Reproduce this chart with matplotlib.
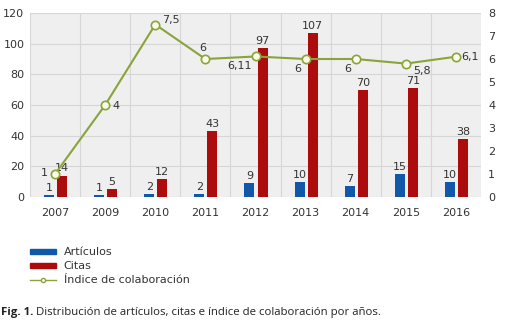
import numpy as np
import matplotlib
matplotlib.use("Agg")
import matplotlib.pyplot as plt
from matplotlib.lines import Line2D
from matplotlib.patches import Patch

years = ["2007", "2009", "2010", "2011", "2012", "2013", "2014", "2015", "2016"]
articulos = [1, 1, 2, 2, 9, 10, 7, 15, 10]
citas = [14, 5, 12, 43, 97, 107, 70, 71, 38]
indice = [1, 4, 7.5, 6, 6.11, 6, 6, 5.8, 6.1]
indice_txt = ["1", "4", "7,5", "6", "6,11", "6", "6", "5,8", "6,1"]
# where the index labels sit relative to their point (points)
indice_off = [(-5, 1), (5, -1), (5, 3), (-2, 8), (-3, -7), (-3, -7), (-3, -7), (5, -5), (4, 0)]

BLUE = "#1258a8"
RED = "#ad0c0c"
GREEN = "#88a43a"
BG = "#efefef"
GRID = "#d6d6d6"
TXT = "#333333"
FS = 8

plt.rcParams["font.family"] = ["DejaVu Sans"]

fig = plt.figure(figsize=(5.08, 3.28), dpi=100)
ax = fig.add_axes([30 / 508, 1 - 197 / 328, 451 / 508, 184 / 328])
ax.set_facecolor(BG)

x = np.arange(len(years))
w = 0.2
ax.bar(x - 0.12, articulos, width=w, color=BLUE, zorder=3)
ax.bar(x + 0.14, citas, width=w, color=RED, zorder=3)

for xi, v in zip(x, articulos):
    ax.annotate(str(v), (xi - 0.12, v), xytext=(0, 1.5), textcoords="offset points",
                ha="center", va="bottom", fontsize=FS, color=TXT, zorder=5)
for xi, v in zip(x, citas):
    ax.annotate(str(v), (xi + 0.14, v), xytext=(0, 1.5), textcoords="offset points",
                ha="center", va="bottom", fontsize=FS, color=TXT, zorder=5)

ax.set_xlim(-0.5, len(years) - 0.5)
ax.set_ylim(0, 120)
ax.set_yticks(range(0, 121, 20))
ax.set_xticks(x)
ax.set_xticklabels(years)
ax.set_xticks(np.arange(-0.5, len(years), 1), minor=True)
ax.grid(True, axis="y", color=GRID, linewidth=0.8, zorder=0)
ax.grid(True, axis="x", which="minor", color=GRID, linewidth=0.8, zorder=0)
ax.tick_params(axis="both", which="both", length=0, labelsize=FS, colors=TXT)
ax.tick_params(axis="x", pad=8)
ax.tick_params(axis="y", pad=4)
for s in ax.spines.values():
    s.set_visible(False)

ax2 = ax.twinx()
ax2.set_ylim(0, 8)
ax2.set_yticks(range(0, 9))
ax2.plot(x, indice, color=GREEN, linewidth=1.5, marker="o", markersize=6,
         markerfacecolor="#fbfbe8", markeredgecolor=GREEN, markeredgewidth=1.2, zorder=4)
for xi, v, t, off in zip(x, indice, indice_txt, indice_off):
    ax2.annotate(t, (xi, v), xytext=off, textcoords="offset points",
                 ha="left" if off[0] > 0 else ("right" if off[0] < -2 else "center"),
                 va="center", fontsize=FS, color=TXT)
ax2.tick_params(axis="y", length=0, labelsize=FS, colors=TXT, pad=5)
for s in ax2.spines.values():
    s.set_visible(False)

handles = [
    Patch(color=BLUE, label="Artículos"),
    Patch(color=RED, label="Citas"),
    Line2D([0], [0], color=GREEN, linewidth=1, marker="o", markersize=3,
           markerfacecolor="white", markeredgecolor=GREEN, label="Índice de colaboración"),
]
leg = fig.legend(handles=handles, loc="upper left", bbox_to_anchor=(26 / 508, 1 - 243 / 328),
                 frameon=False, fontsize=FS, handlelength=2.3, handleheight=0.3,
                 labelspacing=0.35, handletextpad=0.7, borderaxespad=0)
for t in leg.get_texts():
    t.set_color(TXT)

# caption: bold "Fig. 1." followed by the normal text
cap_y = 1 - 313 / 328
bold = fig.text(1 / 508, cap_y, "Fig. 1.", fontsize=8.2, family="Open Sans",
                fontweight="bold", va="center", color="#222222")
fig.canvas.draw()
bb = bold.get_window_extent().transformed(fig.transFigure.inverted())
fig.text(bb.x1 + 3 / 508, cap_y,
         "Distribución de artículos, citas e índice de colaboración por años.",
         fontsize=8.2, family="Open Sans", va="center", color="#222222")

fig.savefig("out.png", dpi=100)
